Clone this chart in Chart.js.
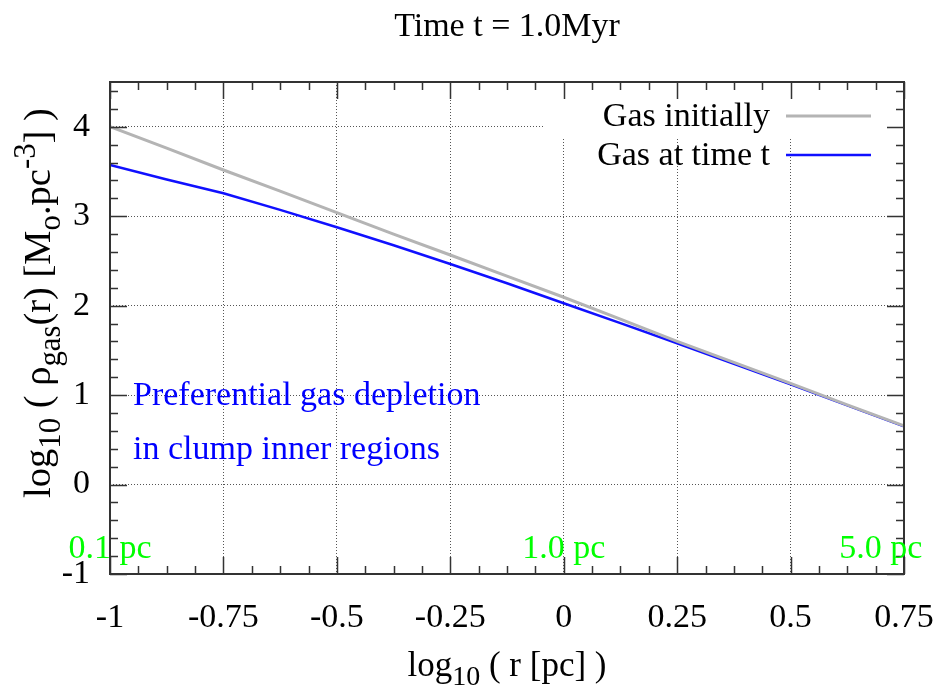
<!DOCTYPE html>
<html>
<head>
<meta charset="utf-8">
<script src="https://cdn.jsdelivr.net/npm/chart.js@4"></script>
<style>
  html, body { margin: 0; padding: 0; background: #fff; }
  #wrap { width: 941px; height: 695px; }
</style>
</head>
<body>
<div id="wrap"><canvas id="chart" width="941" height="695"></canvas></div>
<script>
// log10(r [pc]) sample positions
const radii = [-1, -0.875, -0.75, -0.625, -0.5, -0.375, -0.25, -0.125, 0, 0.125, 0.25, 0.375, 0.5, 0.625, 0.75];
// log10(rho_gas) initially and at time t
const gasInitially = [4.0, 3.76, 3.516, 3.28, 3.04, 2.80, 2.566, 2.33, 2.094, 1.85, 1.60, 1.365, 1.13, 0.89, 0.656];
const gasAtTime = [3.572, 3.41, 3.256, 3.07, 2.876, 2.675, 2.466, 2.25, 2.027, 1.805, 1.58, 1.35, 1.12, 0.885, 0.65];

const seriesLabels = ['Gas initially', 'Gas at time t'];
const xTicks = [-1, -0.75, -0.5, -0.25, 0, 0.25, 0.5, 0.75];
const yTicks = [-1, 0, 1, 2, 3, 4];

// radius markers written in green along the bottom
const markerLabels = ['0.1 pc', '1.0 pc', '5.0 pc'];
const markerX = [-1, 0, 0.699];
const markerY = -0.72;

const noteLines = ['Preferential gas depletion', 'in clump inner regions'];
const noteY = [1.0, 0.4];

const FONT = '"Liberation Serif", "Times New Roman", serif';
const FS = 34;

function drawRich(ctx, segs, x, y, size, align) {
    let total = 0;
    segs.forEach(s => {
        ctx.font = (s.s ? size * 0.8 : size) + 'px ' + FONT;
        s.w = ctx.measureText(s.t).width;
        total += s.w;
    });
    let cx = align === 'center' ? x - total / 2 : x;
    ctx.textAlign = 'left';
    ctx.textBaseline = 'alphabetic';
    segs.forEach(s => {
        ctx.font = (s.s ? size * 0.8 : size) + 'px ' + FONT;
        let dy = 0;
        if (s.s === 'sub') dy = size * 0.25;
        if (s.s === 'sup') dy = -size * 0.4;
        ctx.fillText(s.t, cx, y + dy);
        cx += s.w;
    });
}

const gnuplotLook = {
    id: 'gnuplotLook',
    beforeDatasetsDraw(chart) {
        // key area hides the grid behind it
        const ctx = chart.ctx;
        const a = chart.chartArea;
        ctx.save();
        ctx.fillStyle = '#fff';
        ctx.fillRect(545, a.top, a.right - 545, 56);
        ctx.restore();
    },
    afterDatasetsDraw(chart) {
        const ctx = chart.ctx;
        const a = chart.chartArea;
        const xs = chart.scales.x, ys = chart.scales.y;
        ctx.save();
        ctx.strokeStyle = '#333';
        ctx.lineWidth = 1.5;
        ctx.beginPath();
        // x ticks, bottom and top
        const xStep = xTicks[1] - xTicks[0];
        for (let v = xTicks[0]; v <= xTicks[xTicks.length - 1] + 1e-9; v += xStep / 4) {
            const major = Math.abs(v / xStep - Math.round(v / xStep)) < 1e-6;
            const len = major ? 17 : 8;
            const px = Math.round(xs.getPixelForValue(v)) + 0.5;
            ctx.moveTo(px, a.bottom); ctx.lineTo(px, a.bottom - len);
            ctx.moveTo(px, a.top); ctx.lineTo(px, a.top + len);
        }
        // y ticks, left and right
        for (let v = -1; v <= 4.5 + 1e-9; v += 0.2) {
            const major = Math.abs(v - Math.round(v)) < 1e-6;
            const len = major ? 17 : 8;
            const py = Math.round(ys.getPixelForValue(v)) + 0.5;
            ctx.moveTo(a.left, py); ctx.lineTo(a.left + len, py);
            ctx.moveTo(a.right, py); ctx.lineTo(a.right - len, py);
        }
        ctx.stroke();
        ctx.lineWidth = 2;
        ctx.strokeRect(a.left, a.top, a.right - a.left, a.bottom - a.top);
        ctx.restore();
    },
    afterDraw(chart) {
        const ctx = chart.ctx;
        const a = chart.chartArea;
        const xs = chart.scales.x, ys = chart.scales.y;
        ctx.save();
        ctx.fillStyle = '#000';
        ctx.font = FS + 'px ' + FONT;
        ctx.textAlign = 'center';
        ctx.textBaseline = 'alphabetic';
        ctx.fillText('Time t = 1.0Myr', (a.left + a.right) / 2, 36);

        // x axis title
        drawRich(ctx, [{ t: 'log' }, { t: '10', s: 'sub' }, { t: ' ( r [pc] )' }],
            (a.left + a.right) / 2, 676, 35, 'center');

        // y axis title
        ctx.save();
        ctx.translate(50, 303);
        ctx.rotate(-Math.PI / 2);
        drawRich(ctx, [{ t: 'log' }, { t: '10', s: 'sub' }, { t: ' ( ρ' }, { t: 'gas', s: 'sub' },
            { t: '(r) [M' }, { t: 'o', s: 'sub' }, { t: '.pc' }, { t: '-3', s: 'sup' }, { t: '] )' }],
            0, 0, 38.5, 'center');
        ctx.restore();

        // key
        chart.data.datasets.forEach((ds, i) => {
            const y = 116 + i * 39;
            ctx.fillStyle = '#000';
            ctx.font = FS + 'px ' + FONT;
            ctx.textAlign = 'right';
            ctx.textBaseline = 'middle';
            ctx.fillText(ds.label, 770, y + 1);
            ctx.strokeStyle = ds.borderColor;
            ctx.lineWidth = ds.borderWidth;
            ctx.beginPath();
            ctx.moveTo(786, y);
            ctx.lineTo(871, y);
            ctx.stroke();
        });

        // note
        ctx.fillStyle = '#0000ff';
        ctx.textAlign = 'left';
        ctx.textBaseline = 'middle';
        noteLines.forEach((t, i) => {
            ctx.fillText(t, 133, ys.getPixelForValue(noteY[i]) + 1);
        });

        // radius markers
        ctx.fillStyle = '#00ff00';
        ctx.textAlign = 'center';
        markerLabels.forEach((t, i) => {
            ctx.fillText(t, xs.getPixelForValue(markerX[i]), ys.getPixelForValue(markerY));
        });
        ctx.restore();
    }
};

new Chart(document.getElementById('chart'), {
    type: 'line',
    data: {
        datasets: [{
            label: seriesLabels[0],
            data: radii.map((r, i) => ({ x: r, y: gasInitially[i] })),
            borderColor: '#b4b4b4',
            borderWidth: 3,
            pointRadius: 0,
            tension: 0
        }, {
            label: seriesLabels[1],
            data: radii.map((r, i) => ({ x: r, y: gasAtTime[i] })),
            borderColor: '#1010ff',
            borderWidth: 2.5,
            pointRadius: 0,
            tension: 0
        }]
    },
    options: {
        responsive: false,
        animation: false,
        layout: { padding: { top: 82, right: 37, left: 0, bottom: 0 } },
        plugins: { legend: { display: false }, tooltip: { enabled: false } },
        scales: {
            x: {
                type: 'linear',
                min: -1,
                max: 0.75,
                afterBuildTicks: s => { s.ticks = xTicks.map(v => ({ value: v })); },
                afterFit: s => { s.height = 121; s.paddingLeft = 0; s.paddingRight = 0; },
                grid: { color: '#555', lineWidth: 1, drawTicks: false },
                border: { display: false, dash: [1, 2] },
                ticks: {
                    padding: 24,
                    maxRotation: 0,
                    color: '#000',
                    font: { family: FONT, size: FS },
                    callback: v => String(v)
                }
            },
            y: {
                min: -1,
                max: 4.5,
                afterBuildTicks: s => { s.ticks = yTicks.map(v => ({ value: v })); },
                afterFit: s => { s.width = 110; s.paddingTop = 0; s.paddingBottom = 0; },
                grid: { color: '#555', lineWidth: 1, drawTicks: false },
                border: { display: false, dash: [1, 2] },
                ticks: {
                    padding: 20,
                    color: '#000',
                    font: { family: FONT, size: FS },
                    callback: v => String(v)
                }
            }
        }
    },
    plugins: [gnuplotLook]
});
</script>
</body>
</html>
